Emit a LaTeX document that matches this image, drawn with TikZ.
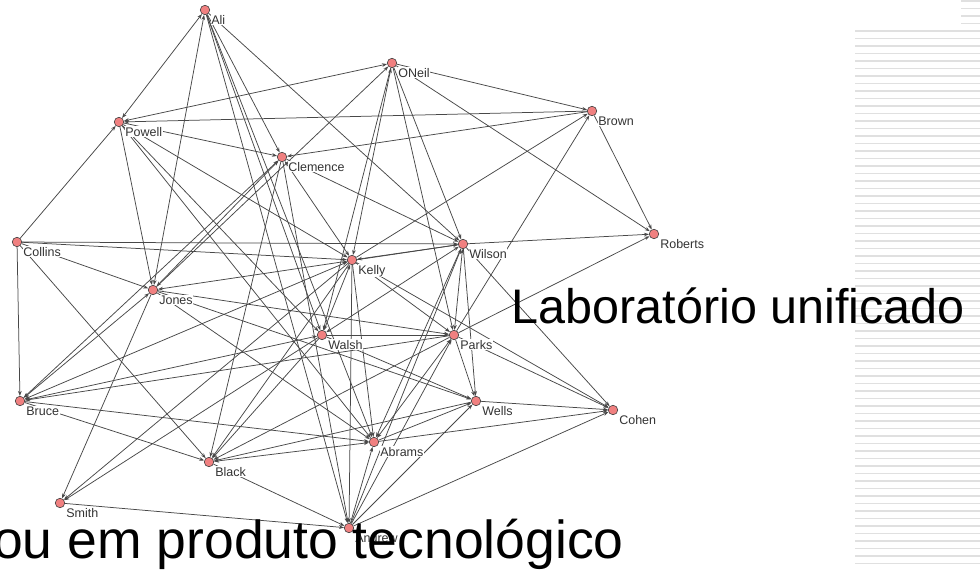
\documentclass[tikz,border=0pt]{standalone}
\usepackage{fontspec}
\setmainfont{Liberation Sans}
\usetikzlibrary{arrows.meta,calc,backgrounds}
\definecolor{nodefill}{RGB}{240,128,128}
\definecolor{stripecol}{RGB}{224,224,224}
\definecolor{edgecol}{RGB}{72,72,72}
\tikzset{
  vtx/.style={circle,draw=black!75,fill=nodefill,line width=0.6pt,minimum size=9.5pt,inner sep=0pt},
  lbl/.style={anchor=base west,inner sep=0.6pt,fill=white,text=black!80,font=\fontsize{12.5}{14}\selectfont},
  link/.style={draw=edgecol,line width=0.75pt,-{Stealth[length=5pt,width=3.6pt]}},
  bilink/.style={draw=edgecol,line width=0.75pt,{Stealth[length=5pt,width=3.6pt]}-{Stealth[length=5pt,width=3.6pt]}},
  bigtext/.style={anchor=base west,inner sep=0pt,text=black},
  stripeline/.style={draw=stripecol,line width=1.6pt},
}
% a person: dot plus name to its lower right
\newcommand{\person}[4]{%
  \node[vtx] (#1) at (#2,#3) {};
  \node[lbl] (#1-lbl) at ($(#2,#3)+(5.5,14)$) {#4};}
\begin{document}
\begin{tikzpicture}[x=1pt,y=-1pt]
\useasboundingbox (0,0) rectangle (980,570);

\person{ali}{205}{10}{Ali}
\person{oneil}{392}{63}{ONeil}
\person{brown}{592}{111}{Brown}
\person{powell}{119}{122}{Powell}
\person{clemence}{282}{157}{Clemence}
\person{collins}{17}{242}{Collins}
\person{roberts}{654}{234}{Roberts}
\person{wilson}{463}{244}{Wilson}
\person{kelly}{352}{260}{Kelly}
\person{jones}{153}{290}{Jones}
\person{walsh}{322}{335}{Walsh}
\person{parks}{454}{335}{Parks}
\person{bruce}{20}{401}{Bruce}
\person{wells}{476}{401}{Wells}
\person{cohen}{613}{410}{Cohen}
\person{abrams}{374}{442}{Abrams}
\person{black}{209}{462}{Black}
\person{smith}{60}{503}{Smith}
\person{andrew}{349}{528}{Andrew}

\begin{pgfonlayer}{background}
  \fill[white] (0,0) rectangle (980,570);
  % ruled margin on the right
  \foreach \k in {0,...,71} {
    \pgfmathsetmacro\yy{31+7.5*\k}
    \draw[stripeline] (855,\yy) -- (980,\yy);
  }
  \foreach \yy in {1,8.5,16,23.5} {
    \draw[stripeline] (961,\yy) -- (980,\yy);
  }
  % ties in both directions
  \foreach \a/\b in {ali/powell,ali/jones,powell/oneil,oneil/kelly,jones/clemence,
      clemence/kelly,bruce/clemence,jones/bruce,kelly/wilson,walsh/wilson,wilson/parks,
      bruce/kelly,kelly/walsh,walsh/bruce,abrams/parks,abrams/black}
    \draw[bilink] (\a) -- (\b);
  % one-way ties
  \foreach \a/\b in {ali/clemence,ali/walsh,ali/abrams,ali/andrew,ali/wilson,
      oneil/brown,jones/oneil,oneil/walsh,oneil/parks,oneil/wilson,oneil/roberts,
      brown/powell,brown/clemence,brown/roberts,parks/brown,kelly/brown,
      wilson/roberts,parks/roberts,
      collins/powell,collins/bruce,collins/wilson,collins/kelly,collins/jones,collins/black,
      powell/clemence,powell/jones,powell/walsh,powell/abrams,powell/kelly,
      clemence/wilson,clemence/black,clemence/andrew,
      wilson/jones,jones/parks,jones/wells,jones/smith,jones/abrams,
      wilson/wells,kelly/parks,kelly/cohen,kelly/andrew,kelly/black,kelly/smith,kelly/abrams,
      parks/cohen,wilson/cohen,wells/cohen,abrams/cohen,andrew/cohen,
      walsh/parks,walsh/wells,walsh/black,walsh/smith,
      smith/andrew,parks/wells,parks/bruce,parks/black,andrew/parks,
      wells/black,abrams/wells,andrew/wells,bruce/abrams,andrew/abrams,bruce/black,
      black/andrew,andrew/wilson,wilson/abrams}
    \draw[link] (\a) -- (\b);
\end{pgfonlayer}

\node[bigtext,font=\fontsize{48.5}{50}\selectfont] (lab) at (511.5,323) {Laboratório unificado};
\node[bigtext,font=\fontsize{53.5}{56}\selectfont] (prod) at (-7,558) {ou em produto tecnológico};
\end{tikzpicture}
\end{document}
